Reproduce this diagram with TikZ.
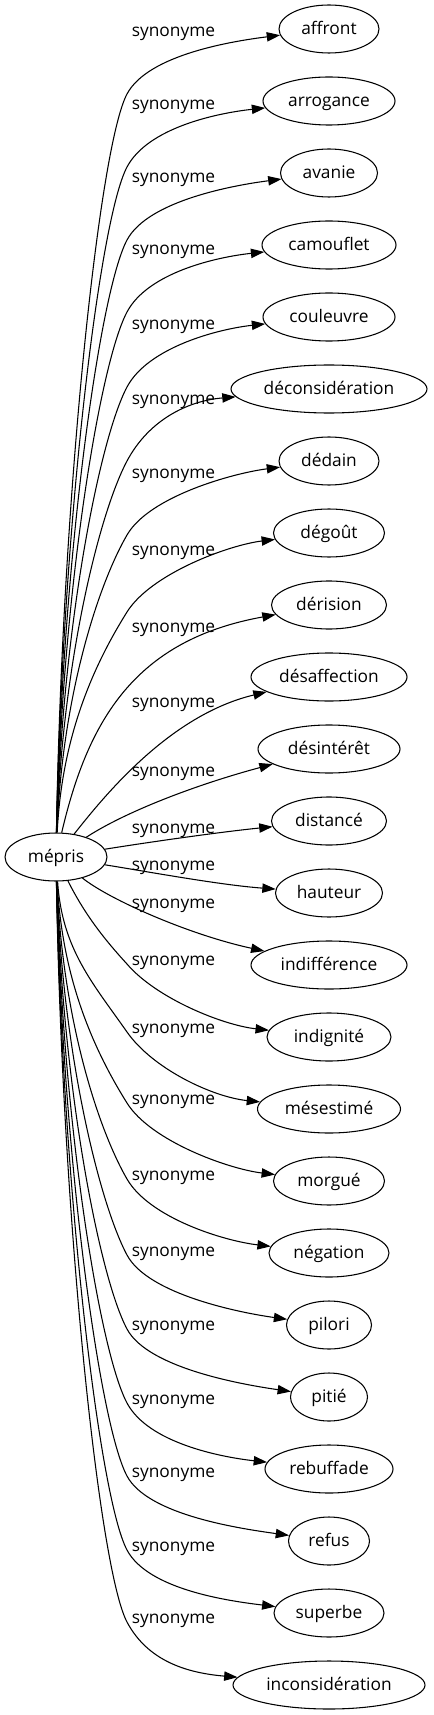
\documentclass[tikz,border=0pt]{standalone}
\usepackage{fontspec}
\setmainfont{Open Sans}
\usetikzlibrary{arrows.meta,shapes.geometric}
\begin{document}
\begin{tikzpicture}[x=0.75pt,y=-0.75pt,
  word/.style={ellipse,draw,line width=0.8pt,inner sep=0pt,minimum height=36pt,
    text height=11pt,text depth=3pt,font=\fontsize{13}{15}\selectfont},
  rel/.style={inner sep=0pt,anchor=base,font=\fontsize{13}{15}\selectfont},
  synedge/.style={draw,line width=0.8pt,-{Triangle[length=10pt,width=7pt]}}]
\useasboundingbox (0,0) rectangle (433,1715);
\node[word,minimum width=76.5pt] (mepris) at (56,857) {mépris};
\foreach \txt/\w/\yl/\ang/\sd [count=\i from 0] in {
 affront/100/32/62/1,
 arrogance/132/105/62/1,
 avanie/97/178/62/1,
 camouflet/134/250/62/1,
 couleuvre/132/325/62/1,
 déconsidération/196/399/62/1,
 dédain/100/473/60/1,
 dégoût/111/550/58/1,
 dérision/115/627/0/0,
 désaffection/156/702/0/0,
 désintérêt/142/771/0/0,
 distancé/115/828/0/0,
 hauteur/107/865/0/0,
 indifférence/156/903/0/0,
 indignité/124/960/0/0,
 mésestimé/143/1028/55/-1,
 morgué/111/1099/58/-1,
 négation/120/1175/60/-1,
 pilori/85/1251/62/-1,
 pitié/77/1325/62/-1,
 rebuffade/128/1399/62/-1,
 refus/81/1472/62/-1,
 superbe/110/1546/62/-1,
 inconsidération/192/1618/62/-1}
{
 \pgfmathsetmacro\yt{29+72*\i}
 \pgfmathsetmacro\ww{0.75*\w}
 \node[word,minimum width=\ww pt] (n\i) at (329,\yt) {\txt};
 \node[rel] (l\i) at (173.5,\yl+5) {synonyme};
 \ifnum\sd=0\relax\else
   \pgfmathsetmacro\yp{\yl+33+29*\sd}
   \pgfmathsetmacro\bse{857-24*\sd}
   \pgfmathsetmacro\cya{\bse-0.45*(\bse-\yp)}
   \pgfmathsetmacro\lenb{min(60,0.45*abs(\bse-\yp))}
   \pgfmathsetmacro\cxb{127-\lenb*cos(\ang)}
   \pgfmathsetmacro\cyb{\yp+\sd*\lenb*sin(\ang)}
   \pgfmathsetmacro\cxc{127+45*cos(\ang)}
   \pgfmathsetmacro\cyc{\yp-\sd*45*sin(\ang)}
   \pgfmathsetmacro\cxd{329-\w/2-45}
   \pgfmathsetmacro\cyd{\yt+12*\sd}
   \draw[synedge] (mepris) .. controls (62,\cya) and (\cxb,\cyb) .. (127,\yp)
      .. controls (\cxc,\cyc) and (\cxd,\cyd) .. (n\i);
 \fi
}
\draw[synedge] (mepris) .. controls (88,720) and (135,640) .. (n8);
\draw[synedge] (mepris) .. controls (105,795) and (170,715) .. (n9);
\draw[synedge] (mepris) .. controls (125,812) and (195,785) .. (n10);
\draw[synedge] (mepris) .. controls (150,842) and (220,832) .. (n11);
\draw[synedge] (mepris) .. controls (150,872) and (220,885) .. (n12);
\draw[synedge] (mepris) .. controls (110,900) and (190,935) .. (n13);
\draw[synedge] (mepris) .. controls (85,915) and (105,940) .. (127,964)
   .. controls (156,998) and (222,1025) .. (n14);
\end{tikzpicture}
\end{document}
